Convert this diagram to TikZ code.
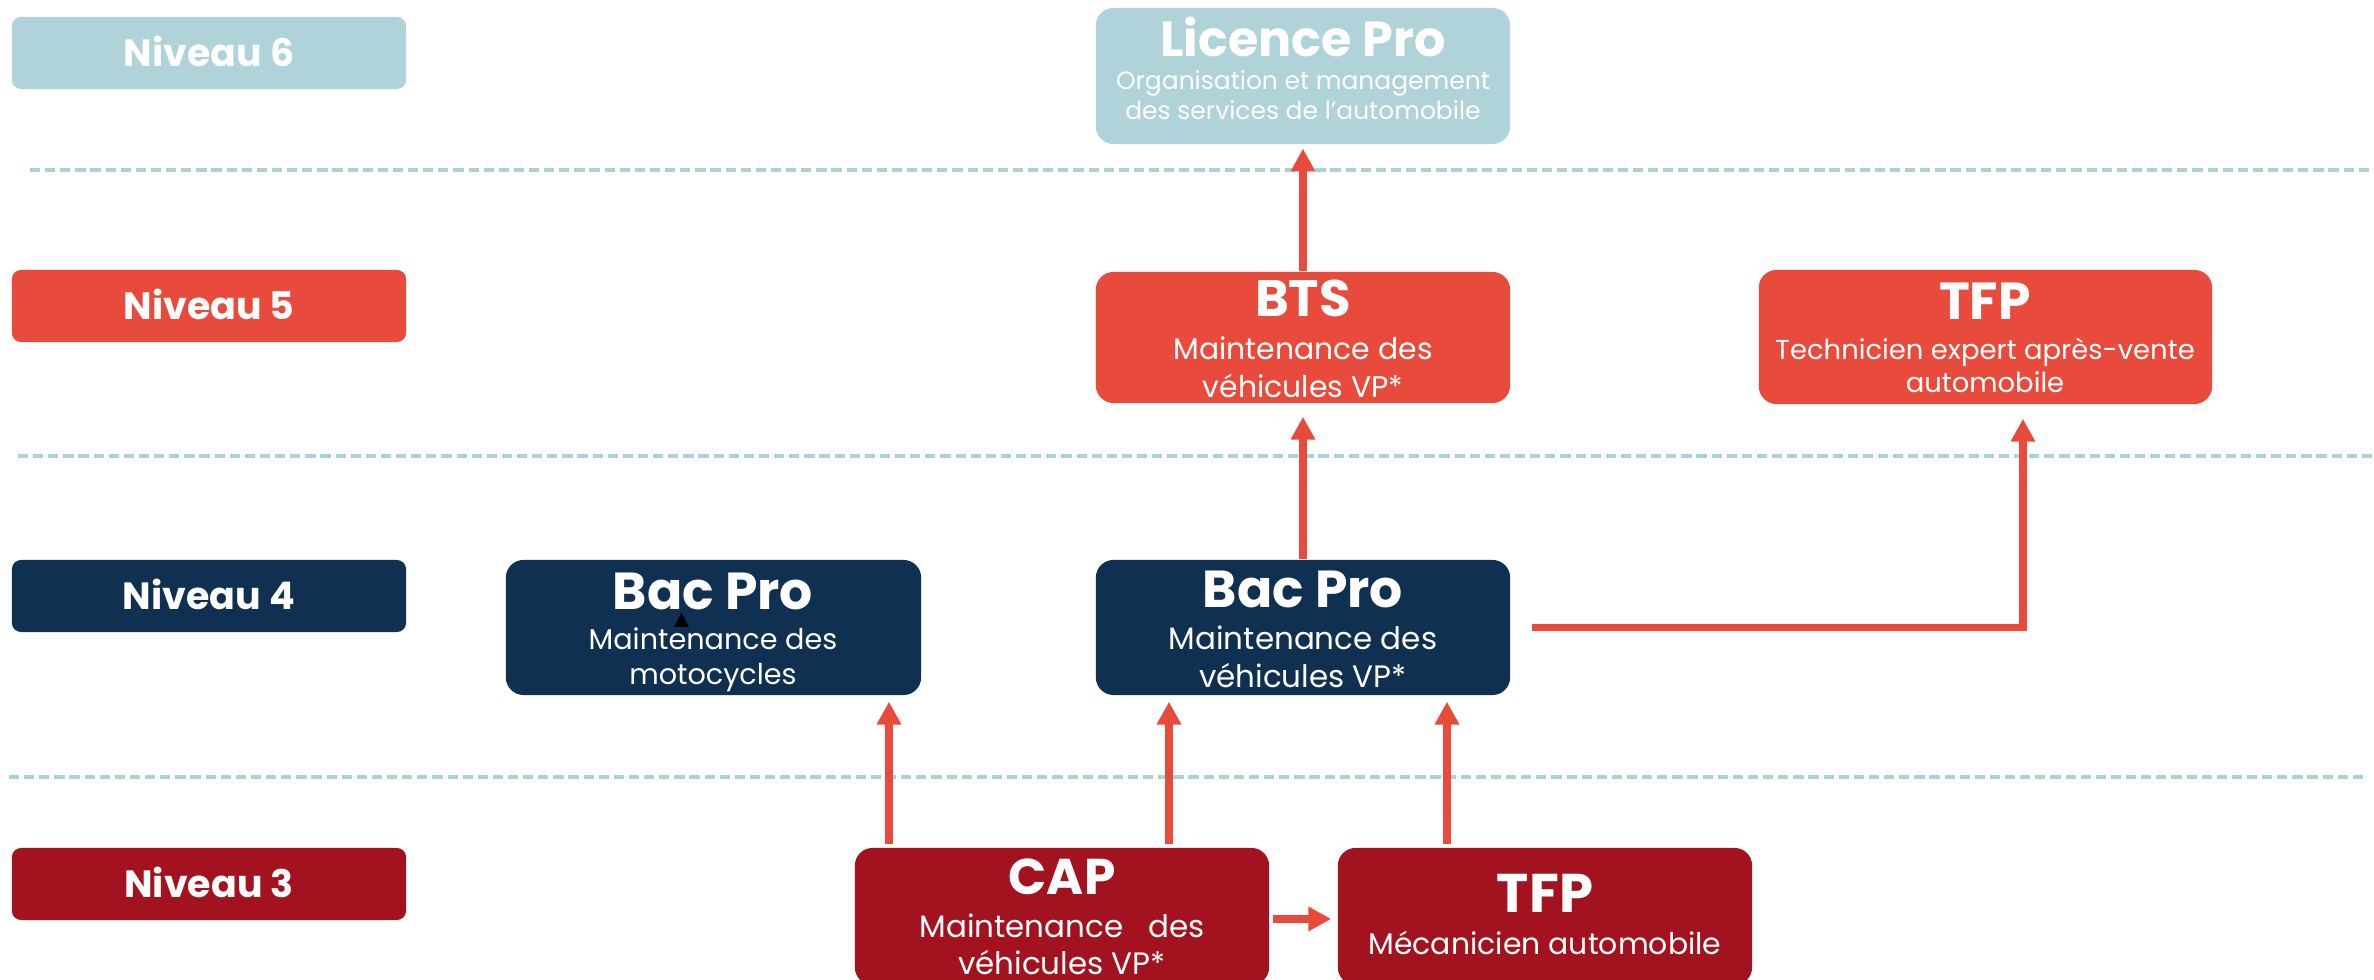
\documentclass[tikz,border=0pt]{standalone}
\usepackage{fontspec}
\setmainfont{Poppins}
\usetikzlibrary{arrows.meta}
\definecolor{lblue}{HTML}{B0D3DA}
\definecolor{lred}{HTML}{E84B3C}
\definecolor{navy}{HTML}{0F3050}
\definecolor{dred}{HTML}{A3131F}
\definecolor{dashc}{HTML}{ABD0D8}
\begin{document}
\begin{tikzpicture}[x=0.01cm,y=-0.01cm,
  lvl/.style={rounded corners=2.6pt, inner sep=0, minimum width=3.94cm, minimum height=0.72cm},
  card/.style={rounded corners=5pt, inner sep=0, minimum width=4.14cm},
  lvltxt/.style={anchor=base, text=white, font=\bfseries\fontsize{10.8}{12}\selectfont, inner sep=0},
  ttl/.style={anchor=base, text=white, font=\bfseries\fontsize{#1}{16}\selectfont, inner sep=0},
  ttl/.default=14.8,
  body/.style={anchor=base, text=white, font=\fontsize{#1}{10}\selectfont, inner sep=0},
  body/.default=8.4,
  arr/.style={draw=lred, line width=2pt, -{Triangle[width=6.6pt,length=6.5pt]}},
  sep/.style={draw=dashc, line width=1.1pt, dash pattern=on 2.9pt off 1.4pt}]
\useasboundingbox (0,0) rectangle (2374,980);
\clip (0,0) rectangle (2374,980);

% separators
\draw[sep] (30,170) -- (2374,170);
\draw[sep] (18,456) -- (2374,456);
\draw[sep] (9,777) -- (2365,777);

% level labels
\node[lvl, fill=lblue] (n6) at (209,53) {};
\node[lvltxt] (n6t) at (209,67) {Niveau 6};
\node[lvl, fill=lred] (n5) at (209,306) {};
\node[lvltxt] (n5t) at (209,320) {Niveau 5};
\node[lvl, fill=navy] (n4) at (209,596) {};
\node[lvltxt] (n4t) at (209,610) {Niveau 4};
\node[lvl, fill=dred] (n3) at (209,884) {};
\node[lvltxt] (n3t) at (209,898) {Niveau 3};

% Licence Pro
\node[card, fill=lblue, minimum height=1.36cm] (lic) at (1303,76) {};
\node[ttl=14] (lict) at (1303,57) {Licence Pro};
\node[body=7.1] (lic1) at (1303,90) {Organisation et management};
\node[body=7.1] (lic2) at (1303,120) {des services de l’automobile};

% BTS
\node[card, fill=lred, minimum height=1.31cm] (bts) at (1303,337.5) {};
\node[ttl=14.6] (btst) at (1303,317) {BTS};
\node[body=8.5] (bts1) at (1303,360) {Maintenance des};
\node[body=8.5] (bts2) at (1303,398) {véhicules VP*};

% TFP niveau 5
\node[card, fill=lred, minimum width=4.53cm, minimum height=1.34cm] (tfp5) at (1985.5,337) {};
\node[ttl=14.8] (tfp5t) at (1985,320) {TFP};
\node[body=7.8] (tfp51) at (1985,360) {Technicien expert après-vente};
\node[body=7.8] (tfp52) at (1985,393) {automobile};

% Bac Pro motocycles
\node[card, fill=navy, minimum width=4.15cm, minimum height=1.35cm] (bacm) at (713.5,627.5) {};
\node[ttl=14.8] (bacmt) at (713,610) {Bac Pro};
\node[body=8.15] (bacm1) at (713,650) {Maintenance des};
\node[body=8.15] (bacm2) at (713,685) {motocycles};
\fill[black] (674,627) -- (681.5,613) -- (689,627) -- cycle;

% Bac Pro VP
\node[card, fill=navy, minimum height=1.35cm] (bacv) at (1303,627.5) {};
\node[ttl=14.8] (bacvt) at (1303,608) {Bac Pro};
\node[body=8.8] (bacv1) at (1303,650) {Maintenance des};
\node[body=8.8] (bacv2) at (1303,688) {véhicules VP*};

% CAP
\node[card, fill=dred, minimum height=1.37cm] (cap) at (1062,916.5) {};
\node[ttl=14.3] (capt) at (1062,895) {CAP};
\node[body=8.8] (cap1) at (1062,938) {Maintenance\ \ \ des};
\node[body=8.8] (cap2) at (1062,975) {véhicules VP*};

% TFP niveau 3
\node[card, fill=dred, minimum height=1.37cm] (tfp3) at (1545,916.5) {};
\node[ttl=15.5] (tfp3t) at (1545,913) {TFP};
\node[body=8.5] (tfp31) at (1545,955) {Mécanicien automobile};

% arrows
\draw[arr, shorten >=1.1pt] (bts.north) -- (lic.south);
\draw[arr, shorten >=3.7pt] (bacv.north) -- (bts.south);
\draw[arr, shorten >=4pt] ([xshift=0.21cm]bacv.east) -| (tfp5.south -| 2023,0);
\draw[arr, shorten <=0.85pt, shorten >=1.7pt] (cap.north -| 889,0) -- (bacm.south -| 889,0);
\draw[arr, shorten <=0.85pt, shorten >=1.7pt] (cap.north -| 1169,0) -- (bacv.south -| 1169,0);
\draw[arr, shorten <=0.85pt, shorten >=1.7pt] (tfp3.north -| 1447,0) -- (bacv.south -| 1447,0);
\draw[arr, shorten <=0.85pt, shorten >=1.7pt] (cap.east |- 0,919) -- (tfp3.west |- 0,919);
\end{tikzpicture}
\end{document}
